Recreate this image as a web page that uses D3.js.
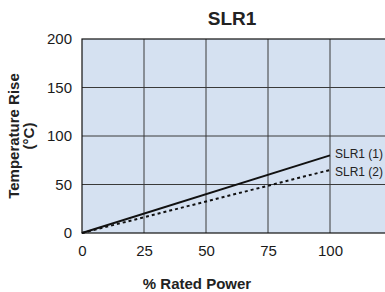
<!DOCTYPE html>
<html>
<head>
<meta charset="utf-8">
<script src="https://cdn.jsdelivr.net/npm/d3@7"></script>
<style>
  body { margin: 0; background: #fff; }
  svg { display: block; font-family: "Liberation Sans", Arial, sans-serif; }
</style>
</head>
<body>
<script>
// Daten
const ratedPower = [0, 100];
const slr1Series1 = [0, 80];
const slr1Series2 = [0, 65];
const seriesNames = ["SLR1 (1)", "SLR1 (2)"];
const xTicks = [0, 25, 50, 75, 100];
const xGrid = [25, 50, 75, 100, 125];
const yTicks = [0, 50, 100, 150, 200];

const width = 385, height = 292;
const margin = {top: 39, left: 82, bottom: 59};

const svg = d3.select("body").append("svg")
    .attr("width", width)
    .attr("height", height);

// Skalen (Plotbereich geht rechts über das Bild hinaus)
const xScale = d3.scaleLinear().domain([0, 125]).range([margin.left, margin.left + 310]);
const yScale = d3.scaleLinear().domain([0, 200]).range([height - margin.bottom, margin.top]);

// Hintergrund
svg.append("rect")
    .attr("x", xScale(0))
    .attr("y", yScale(200))
    .attr("width", xScale(125) - xScale(0))
    .attr("height", yScale(0) - yScale(200))
    .attr("fill", "#d5e1f1");

// Gitterlinien
svg.append("g").selectAll("line")
    .data(xGrid)
    .join("line")
    .attr("x1", d => xScale(d)).attr("x2", d => xScale(d))
    .attr("y1", yScale(0)).attr("y2", yScale(200))
    .attr("stroke", "#3a3a3a")
    .attr("stroke-width", 1);

svg.append("g").selectAll("line")
    .data(yTicks.slice(1, -1))
    .join("line")
    .attr("x1", xScale(0)).attr("x2", xScale(125))
    .attr("y1", d => yScale(d)).attr("y2", d => yScale(d))
    .attr("stroke", "#3a3a3a")
    .attr("stroke-width", 1);

// Rahmen
svg.append("rect")
    .attr("x", xScale(0))
    .attr("y", yScale(200))
    .attr("width", xScale(125) - xScale(0))
    .attr("height", yScale(0) - yScale(200))
    .attr("fill", "none")
    .attr("stroke", "#111")
    .attr("stroke-width", 1.2);

// Achsen
const yAxis = svg.append("g")
    .attr("transform", `translate(${xScale(0)},0)`)
    .call(d3.axisLeft(yScale).tickValues(yTicks).tickSize(0).tickPadding(10));
yAxis.select(".domain").remove();
yAxis.selectAll("text").style("font-size", "15px").attr("fill", "#1a1a1a");

const xAxis = svg.append("g")
    .attr("transform", `translate(0,${yScale(0)})`)
    .call(d3.axisBottom(xScale).tickValues(xTicks).tickSize(0).tickPadding(12));
xAxis.select(".domain").remove();
xAxis.selectAll("text").style("font-size", "15px").attr("fill", "#1a1a1a");

// Linien
const lineGen = d3.line()
    .x((d, i) => xScale(ratedPower[i]))
    .y(d => yScale(d));

svg.append("path")
    .datum(slr1Series1)
    .attr("d", lineGen)
    .attr("fill", "none")
    .attr("stroke", "#111")
    .attr("stroke-width", 2);

svg.append("path")
    .datum(slr1Series2)
    .attr("d", lineGen)
    .attr("fill", "none")
    .attr("stroke", "#111")
    .attr("stroke-width", 2)
    .attr("stroke-dasharray", "3,3");

// Serienbeschriftungen
[slr1Series1, slr1Series2].forEach((s, i) => {
    svg.append("text")
        .attr("x", xScale(ratedPower[1]) + 5)
        .attr("y", yScale(s[1]) + (i === 0 ? -2 : 2))
        .attr("dy", "0.35em")
        .style("font-size", "12px")
        .attr("fill", "#222")
        .text(seriesNames[i]);
});

// Titel
svg.append("text")
    .attr("x", 232)
    .attr("y", 25)
    .style("text-anchor", "middle")
    .style("font-size", "19px")
    .style("font-weight", "bold")
    .attr("fill", "#222")
    .text("SLR1");

// X-Achsentitel
svg.append("text")
    .attr("x", 197)
    .attr("y", 289)
    .style("text-anchor", "middle")
    .style("font-size", "15px")
    .style("font-weight", "bold")
    .attr("fill", "#222")
    .text("% Rated Power");

// Y-Achsentitel (zweizeilig)
const yTitle = svg.append("text")
    .attr("transform", `translate(19,${(yScale(0) + yScale(200)) / 2}) rotate(-90)`)
    .style("text-anchor", "middle")
    .style("font-size", "15px")
    .style("font-weight", "bold")
    .attr("fill", "#222");
yTitle.append("tspan").attr("x", 0).attr("y", 0).text("Temperature Rise");
yTitle.append("tspan").attr("x", 0).attr("y", 15).text("(°C)");
</script>
</body>
</html>
